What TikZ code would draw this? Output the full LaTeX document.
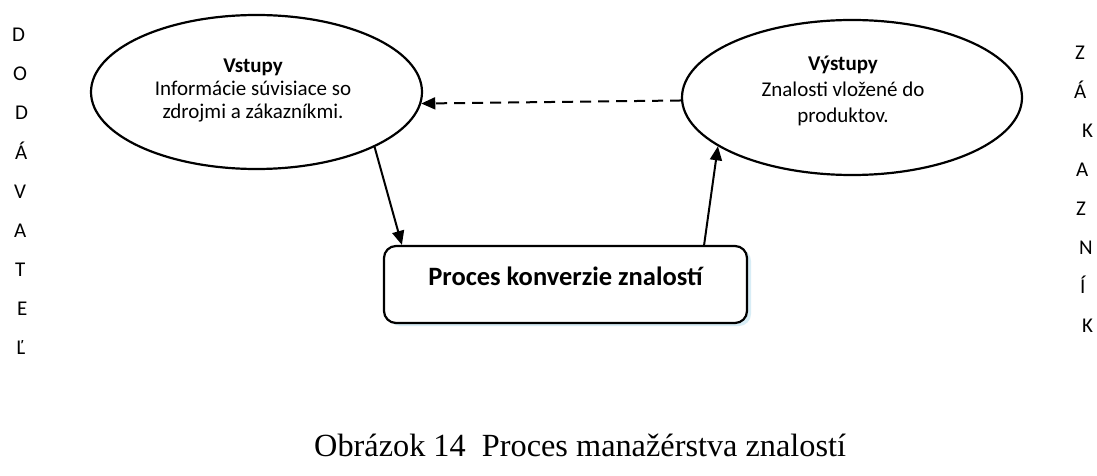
\documentclass[tikz,border=0pt]{standalone}
\usepackage{fontspec}
\setmainfont{Carlito}
\newfontfamily\capfont{Liberation Serif}
\usetikzlibrary{arrows.meta,shapes.geometric,calc,shadows}
\definecolor{shadowblue}{RGB}{216,237,246}

\tikzset{
  bubble/.style={ellipse, draw, line width=2.2pt, inner sep=0pt},
  bubbletext/.style={align=center, inner sep=0pt, font=\fontsize{21}{23}\selectfont},
  procbox/.style={rectangle, draw, line width=2.2pt, rounded corners=12pt, fill=white,
    minimum width=363pt, minimum height=77pt, text height=10pt, text depth=9pt,
    drop shadow={shadow xshift=4pt, shadow yshift=-3pt, fill=shadowblue, opacity=1}},
  flow/.style={line width=2pt, -{Triangle[length=14pt,width=12pt]}},
  sideletter/.style={anchor=base west, inner sep=0pt, font=\fontsize{21}{21}\selectfont},
}

\begin{document}
\begin{tikzpicture}[x=1pt,y=-1pt]
\useasboundingbox[fill=white] (0,0) rectangle (1097,476);

% input and output ellipses
\node[bubble, minimum width=331pt, minimum height=154pt] (vst) at (256.5,92) {};
\node[bubble, minimum width=340pt, minimum height=155pt] (vyst) at (852,97.5) {};

\node[bubbletext] (vsttxt) at (253,90.5)
  {\textbf{Vstupy}\\Informácie súvisiace so\\zdrojmi a zákazníkmi.};
\node[bubbletext, font=\fontsize{21}{26}\selectfont] (vysttxt) at (843,91)
  {\textbf{Výstupy}\\Znalosti vložené do\\produktov.};

% conversion process box
\node[procbox, font=\bfseries\fontsize{26.5}{26.5}\selectfont] (proc) at (565.5,284.5)
  {Proces konverzie znalostí};

% connectors
\draw[flow] (vst.335.4) -- ($(proc.north west)+(19,0)$);
\draw[flow] ($(proc.north east)+(-44,0)$) -- (vyst.200.6);
\draw[flow, dash pattern=on 11pt off 7pt] (vyst.181.5) -- (vst.356.5);

% caption
\node[anchor=base west, inner sep=0pt, font=\capfont\fontsize{32.3}{32.3}\selectfont]
  (cap) at (314,456) {Obrázok 14\ \ Proces manažérstva znalostí};

% supplier column
\foreach \ch/\xx/\k [count=\i] in {D/12/0, O/13/1, D/15/2, Á/15/3, V/14/4, A/14/5, T/15/6, E/17/7, Ľ/16/8}
  \node[sideletter] (sup\i) at (\xx, 42+39*\k) {\ch};

% customer column
\foreach \ch/\xx/\k [count=\i] in {Z/1075/0, Á/1074/1, K/1082/2, A/1076/3, Z/1076/4, N/1079/5, Í/1080/6, K/1082/7}
  \node[sideletter] (cus\i) at (\xx, 60+38.9*\k) {\ch};
\end{tikzpicture}
\end{document}
